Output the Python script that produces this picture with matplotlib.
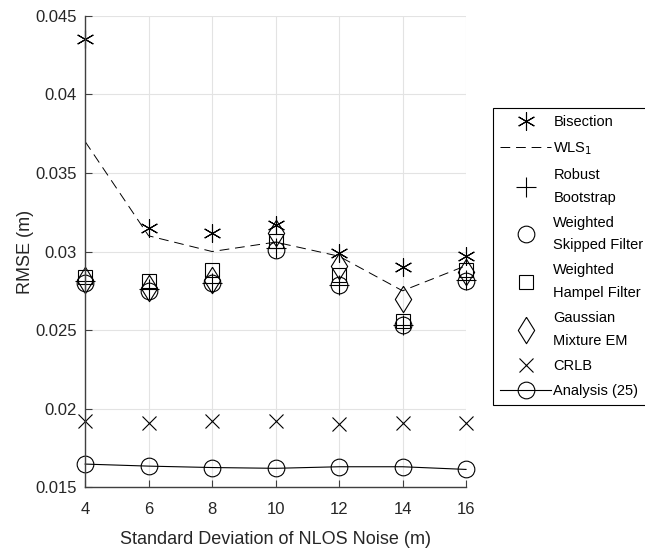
import matplotlib.pyplot as plt
import numpy as np

plt.rcParams['font.family'] = ['Liberation Sans', 'DejaVu Sans']

noise_std = [4, 6, 8, 10, 12, 14, 16]
bisection = [0.0435, 0.0315, 0.0312, 0.0317, 0.0299, 0.0290, 0.0297]
wls1 = [0.0370, 0.0310, 0.0300, 0.0306, 0.0297, 0.0275, 0.0291]
robust_bootstrap = [0.0281, 0.0276, 0.0280, 0.0302, 0.0279, 0.0253, 0.0282]
weighted_skipped = [0.0280, 0.0275, 0.0280, 0.0301, 0.0279, 0.0253, 0.0281]
weighted_hampel = [0.0284, 0.0281, 0.0288, 0.0307, 0.0285, 0.0256, 0.0288]
gaussian_em = [0.0282, 0.0277, 0.0282, 0.0312, 0.0291, 0.0270, 0.0287]
crlb = [0.0192, 0.0191, 0.0192, 0.0192, 0.0190, 0.0191, 0.0191]
analysis = [0.01647, 0.01634, 0.01625, 0.01620, 0.01630, 0.01630, 0.01613]

# MATLAB-style tall diamond
diamond = [(0, 1), (0.62, 0), (0, -1), (-0.62, 0), (0, 1)]
star = (6, 2, 0)

fig = plt.figure(figsize=(6.45, 5.48), dpi=100)
ax = fig.add_axes([0.132, 0.111, 0.5905, 0.860])

k = dict(color='k', linestyle='none', markerfacecolor='none', markeredgewidth=0.8, clip_on=False)
ax.plot(noise_std, bisection, marker=star, markersize=13, label='Bisection', **k)
ax.plot(noise_std, wls1, color='k', linestyle=(0, (10, 6)), linewidth=0.7, label='WLS$_1$')
ax.plot(noise_std, robust_bootstrap, marker='+', markersize=14, label='Robust\nBootstrap', **k)
ax.plot(noise_std, weighted_skipped, marker='o', markersize=12, label='Weighted\nSkipped Filter', **k)
ax.plot(noise_std, weighted_hampel, marker='s', markersize=9.5, label='Weighted\nHampel Filter', **k)
ax.plot(noise_std, gaussian_em, marker=diamond, markersize=19, label='Gaussian\nMixture EM', **k)
ax.plot(noise_std, crlb, marker='x', markersize=10, label='CRLB', **k)
ax.plot(noise_std, analysis, color='k', linewidth=0.8, marker='o', markersize=12,
        markerfacecolor='none', markeredgewidth=0.8, clip_on=False, label='Analysis (25)')

ax.set_xlim(4, 16)
ax.set_ylim(0.015, 0.045)
ax.set_xticks(noise_std)
ax.set_yticks([0.015, 0.02, 0.025, 0.03, 0.035, 0.04, 0.045])
ax.set_yticklabels(['0.015', '0.02', '0.025', '0.03', '0.035', '0.04', '0.045'])
ax.grid(True, color='#e3e3e3', linewidth=0.8)
ax.set_axisbelow(True)
for s in ['top', 'right']:
    ax.spines[s].set_visible(False)
for s in ['left', 'bottom']:
    ax.spines[s].set_color('#404040')
    ax.spines[s].set_linewidth(1.0)
ax.tick_params(direction='in', length=5, width=0.8, colors='#404040',
               labelcolor='#262626', labelsize=12)
ax.tick_params(axis='x', pad=11)
ax.tick_params(axis='y', pad=6)
ax.set_xlabel('Standard Deviation of NLOS Noise (m)', fontsize=13, color='#262626', labelpad=10)
ax.set_ylabel('RMSE (m)', fontsize=13, color='#262626', labelpad=1)

leg = fig.legend(loc='upper left', bbox_to_anchor=(0.764, 0.803), fontsize=10.5,
                 frameon=True, fancybox=False, framealpha=1, edgecolor='k',
                 handlelength=3.5, handletextpad=0.15, borderpad=0.5,
                 labelspacing=0.75, borderaxespad=0)
leg.get_frame().set_linewidth(0.8)
for t in leg.get_texts():
    t.set_linespacing(1.8)
    t.set_color('#000000')

fig.savefig('out.png', dpi=100)
